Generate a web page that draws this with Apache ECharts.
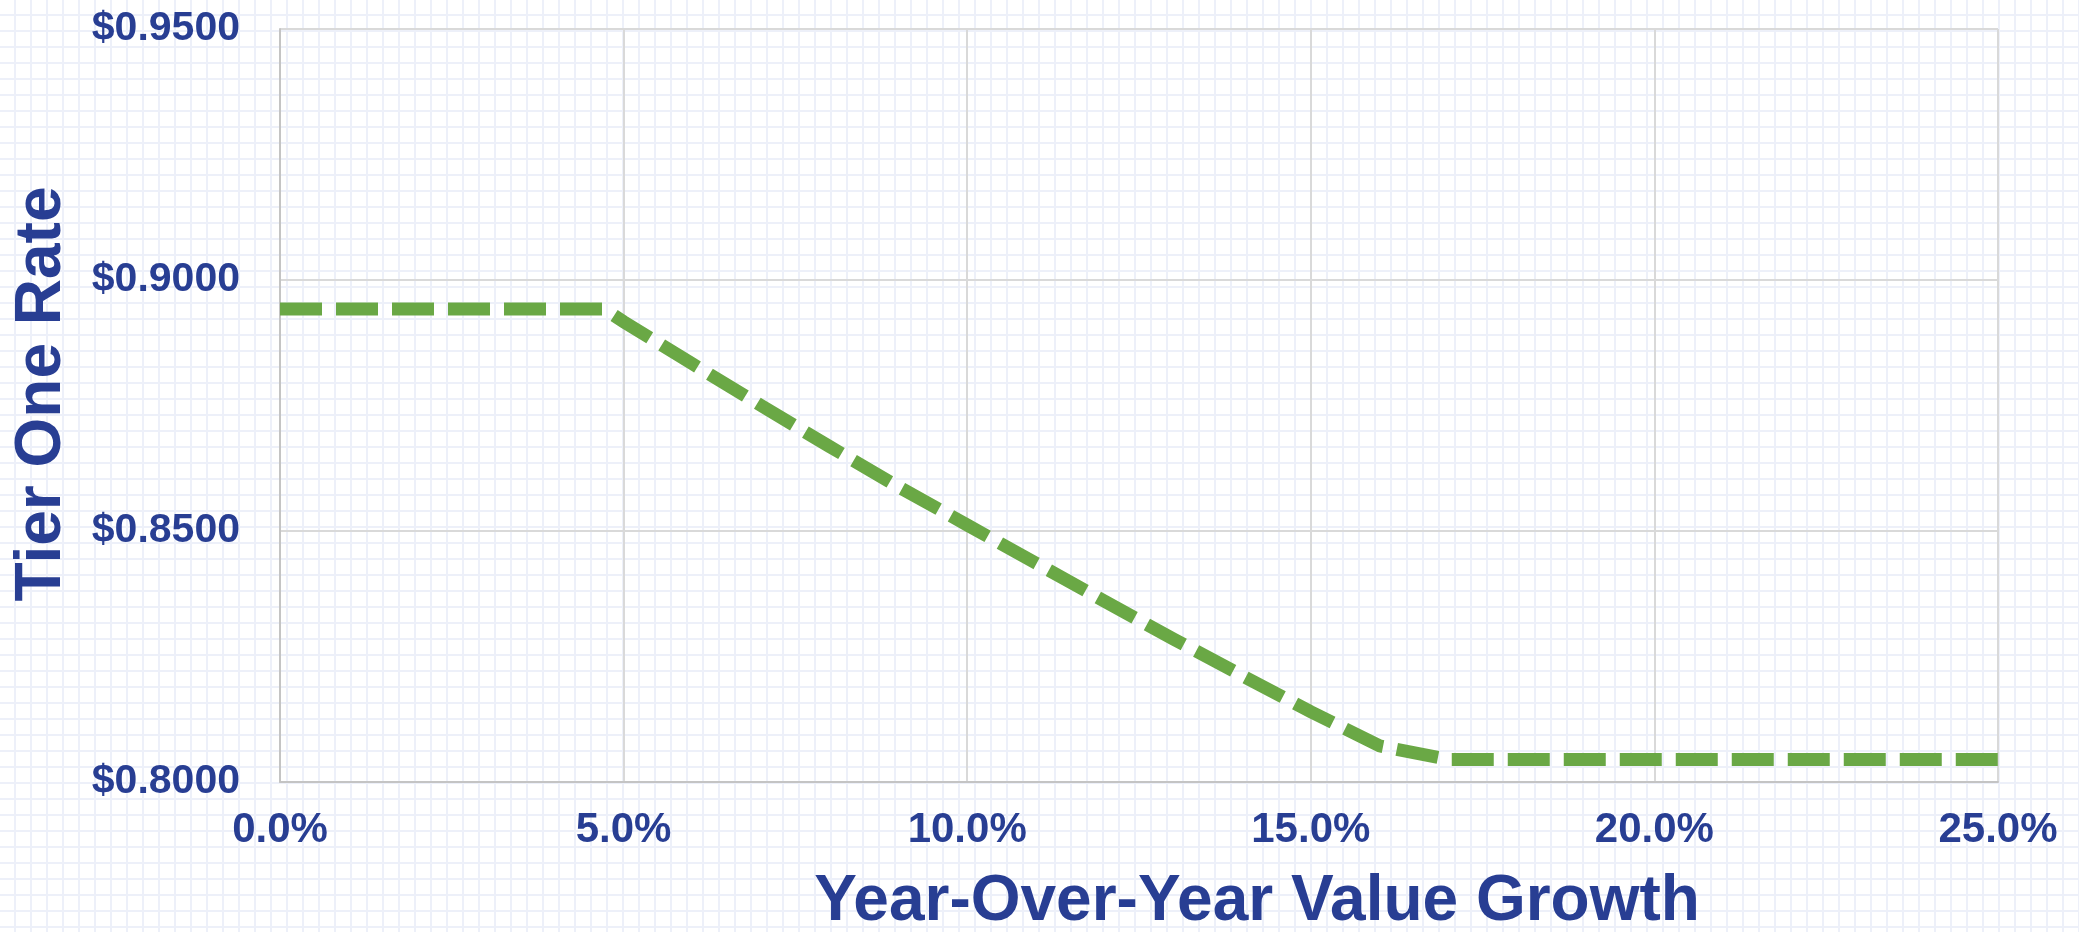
<!DOCTYPE html>
<html>
<head>
<meta charset="utf-8">
<script src="https://cdn.jsdelivr.net/npm/echarts@6/dist/echarts.min.js"></script>
<style>
html, body { margin:0; padding:0; width:2079px; height:932px; overflow:hidden;
  background-color:#ffffff;
  background-image: linear-gradient(90deg, #edf0f9 2px, transparent 2px), linear-gradient(180deg, #edf0f9 2px, transparent 2px);
  background-size: 16px 16px; background-position: 14px 14px; }
#chart { width:2079px; height:932px; }
</style>
</head>
<body>
<div id="chart"></div>
<script>
// Data
const growthPct = [0, 1, 2, 3, 4, 4.72, 5, 6, 7, 8, 9, 10, 11, 12, 13, 14, 15, 16, 17, 18, 19, 20, 21, 22, 23, 24, 25];
const tierOneRate = [0.8942, 0.8942, 0.8942, 0.8942, 0.8942, 0.8942, 0.8917, 0.8833, 0.8750, 0.8668, 0.8588, 0.8512, 0.8436, 0.8360, 0.8285, 0.8212, 0.8140, 0.8072, 0.8045, 0.8045, 0.8045, 0.8045, 0.8045, 0.8045, 0.8045, 0.8045, 0.8045];
const xTitle = 'Year-Over-Year Value Growth';
const yTitle = 'Tier One Rate';

const textColor = '#283e93';
const fontFam = "'Liberation Sans', Arial, sans-serif";

const chart = echarts.init(document.getElementById('chart'), null, { renderer: 'canvas' });
chart.setOption({
  backgroundColor: 'transparent',
  animation: false,
  grid: { left: 280, right: 81, top: 29, bottom: 150, containLabel: false },
  xAxis: {
    type: 'value', min: 0, max: 25, interval: 5,
    axisLine: { show: true, lineStyle: { color: '#c4c4c4', width: 2 } },
    axisTick: { show: false },
    splitLine: { show: true, lineStyle: { color: '#d9d9d9', width: 2 } },
    axisLabel: { formatter: v => v.toFixed(1) + '%', color: textColor, fontFamily: fontFam, fontWeight: 'bold', fontSize: 42, margin: 27 }
  },
  yAxis: {
    type: 'value', min: 0.8, max: 0.95, interval: 0.05,
    axisLine: { show: true, lineStyle: { color: '#c4c4c4', width: 2 } },
    axisTick: { show: false },
    splitLine: { show: true, lineStyle: { color: '#d9d9d9', width: 2 } },
    axisLabel: { formatter: v => '$' + v.toFixed(4), color: textColor, fontFamily: fontFam, fontWeight: 'bold', fontSize: 41, margin: 40 }
  },
  graphic: [
    { type: 'text', x: 1257, y: 902, style: { text: xTitle, fill: textColor, font: "bold 64px 'Liberation Sans', Arial, sans-serif", align: 'center', verticalAlign: 'middle' } },
    { type: 'text', x: 42, y: 394, rotation: Math.PI / 2, style: { text: yTitle, fill: textColor, font: "bold 64px 'Liberation Sans', Arial, sans-serif", align: 'center', verticalAlign: 'middle' } }
  ],
  series: [{
    type: 'line',
    data: growthPct.map((x, i) => [x, tierOneRate[i]]),
    showSymbol: false,
    smooth: false,
    lineStyle: { color: '#6aa845', width: 13, type: [42, 14], cap: 'butt', join: 'miter' }
  }]
});
</script>
</body>
</html>
